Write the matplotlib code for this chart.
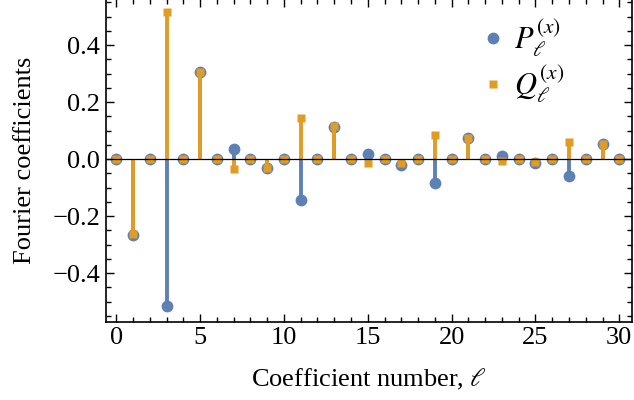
import numpy as np
import matplotlib
matplotlib.use('Agg')
from matplotlib import pyplot as plt
from matplotlib.ticker import MultipleLocator

plt.rcParams['font.family'] = ['Liberation Serif', 'DejaVu Serif']
plt.rcParams['mathtext.fontset'] = 'stix'

# Coefficient numbers and Fourier coefficients
ell = list(range(31))
p_coef = [0, -0.265, 0, -0.516, 0, 0.305, 0, 0.037, 0, -0.032, 0, -0.143, 0, 0.114, 0,
          0.017, 0, -0.020, 0, -0.082, 0, 0.074, 0, 0.011, 0, -0.014, 0, -0.059, 0, 0.053, 0]
q_coef = [0, -0.262, 0, 0.516, 0, 0.306, 0, -0.034, 0, -0.031, 0, 0.144, 0, 0.117, 0,
          -0.015, 0, -0.015, 0, 0.085, 0, 0.075, 0, -0.008, 0, -0.010, 0, 0.061, 0, 0.055, 0]

blue = '#5E81B5'
orange = '#E19C24'

fig = plt.figure(figsize=(6.34, 4.0), dpi=100)
ax = fig.add_axes([0.1667, 0.1958, 0.8297, 0.8067])

x = np.array(ell)
p = np.array(p_coef)
q = np.array(q_coef)

# stems
ax.vlines(x, 0, p, color=blue, lw=2.8, zorder=2)
ax.plot(x, p, 'o', color=blue, ms=8.5, mec='none', zorder=3, label=r'$P_{\ell}^{(x)}$')
ax.vlines(x, 0, q, color=orange, lw=2.8, zorder=4)
ax.plot(x, q, 's', color=orange, ms=6, mec='none', zorder=5, label=r'$Q_{\ell}^{(x)}$')
ax.axhline(0, color='black', lw=0.9, zorder=6)

ax.set_xlim(-0.63, 30.74)
ax.set_ylim(-0.570, 0.562)

ax.xaxis.set_major_locator(MultipleLocator(5))
ax.xaxis.set_minor_locator(MultipleLocator(1))
ax.yaxis.set_major_locator(MultipleLocator(0.2))
ax.yaxis.set_minor_locator(MultipleLocator(0.05))
ax.yaxis.set_major_formatter(plt.FuncFormatter(lambda v, _: '0.0' if abs(v) < 1e-9 else f'{v:.1f}'.replace('-', '\u2212')))

ax.tick_params(which='both', direction='in', top=True, right=True, labelsize=19, width=1.0, pad=4)
ax.tick_params(which='major', length=6)
ax.tick_params(which='minor', length=3.5)
for s in ax.spines.values():
    s.set_linewidth(1.2)

ax.set_xlabel(r'Coefficient number, $\ell$', fontsize=19, labelpad=13)
ax.set_ylabel('Fourier coefficients', fontsize=19, labelpad=12)

ax.legend(loc='upper left', bbox_to_anchor=(0.684, 0.981), frameon=False, fontsize=22,
          handlelength=1.0, handletextpad=0.2, labelspacing=0.15, borderaxespad=0)

fig.savefig('out.png', dpi=100)
